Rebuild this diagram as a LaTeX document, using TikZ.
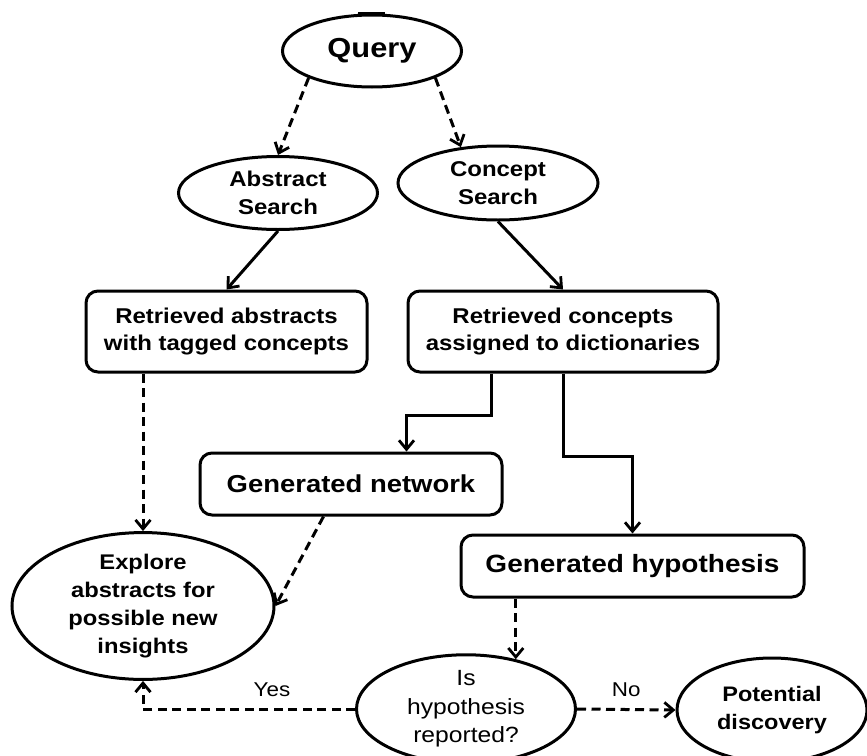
\documentclass[tikz,border=0pt]{standalone}
\usepackage{fontspec}
\setmainfont{Liberation Sans}[FakeStretch=1.12]
\usetikzlibrary{shapes.geometric,arrows.meta,calc}
\tikzset{
  every picture/.style={line width=3pt},
  oval/.style={draw, ellipse, inner sep=0pt, align=center},
  boxnode/.style={draw, rectangle, rounded corners=12pt, inner sep=0pt, align=center, font=\bfseries\fontsize{21.4}{27}\selectfont},
  conn/.style={-{Straight Barb[length=9pt,width=15pt,line width=2.8pt]}},
  dconn/.style={conn, dash pattern=on 9pt off 5.5pt},
  lbl/.style={font=\fontsize{20}{24}\selectfont, inner sep=0pt}
}
\begin{document}
\begin{tikzpicture}[x=1pt,y=1pt]
\path[use as bounding box] (0,0) rectangle (867,-755);
\clip (0,0) rectangle (867,-755);
\fill[white] (0,0) rectangle (867,-755);
\draw[line width=3pt] (358,-13.5) -- (385,-13.5);
% nodes
\node[oval, minimum width=179pt, minimum height=72pt, font=\bfseries\fontsize{27.5}{32}\selectfont] (q) at (372,-51) {Query};
\node[oval, minimum width=199pt, minimum height=73pt, font=\bfseries\fontsize{21.4}{28}\selectfont] (as) at (278,-193) {Abstract\\Search};
\node[oval, minimum width=200pt, minimum height=74pt, font=\bfseries\fontsize{21.4}{28}\selectfont] (cs) at (498,-183) {Concept\\Search};
\node[boxnode, minimum width=281pt, minimum height=81pt] (ra) at (226.5,-331.5) {Retrieved abstracts\\with tagged concepts};
\node[boxnode, minimum width=310pt, minimum height=81pt] (rc) at (563,-331.5) {Retrieved concepts\\assigned to dictionaries};
\node[boxnode, minimum width=302pt, minimum height=62pt, font=\bfseries\fontsize{24.5}{28}\selectfont] (gn) at (351,-484) {Generated network};
\node[boxnode, minimum width=343pt, minimum height=62pt, font=\bfseries\fontsize{25}{28}\selectfont] (gh) at (632.5,-566) {Generated hypothesis};
\node[oval, minimum width=262pt, minimum height=143pt, font=\bfseries\fontsize{21.2}{28}\selectfont] (ex) at (143,-606) {Explore\\abstracts for\\possible new\\insights};
\node[oval, minimum width=219pt, minimum height=104pt, font=\fontsize{22}{28.5}\selectfont] (ih) at (466,-709) {Is\\hypothesis\\reported?};
\node[oval, minimum width=190pt, minimum height=104pt, font=\bfseries\fontsize{21}{28}\selectfont] (pd) at (772,-710) {Potential\\discovery};
% connectors
\draw[dconn] (q.203) -- (as.north);
\draw[dconn] (q.337) -- (cs.136);
\draw[conn] (as.south) -- (ra.north);
\draw[conn] (cs.south) -- (rc.north);
\draw[conn] ([xshift=85pt]rc.south west) -- ++(0,-42) -| ([xshift=208pt]gn.north west);
\draw[conn] (rc.south) -- ++(0,-83) -| (gh.north);
\draw[dconn] (ex.north |- ra.south) -- (ex.north);
\draw[dconn] ([xshift=125pt]gn.south west) -- (ex.east);
\draw[dconn] (ih.45 |- gh.south) -- (ih.45);
\draw[dconn] (ih.east) -- node[lbl, above=11pt] (no) {No} (pd.west);
\draw[dconn] (ih.west) -| (ex.south);
\node[lbl] (yes) at (272,-690) {Yes};
\end{tikzpicture}
\end{document}
